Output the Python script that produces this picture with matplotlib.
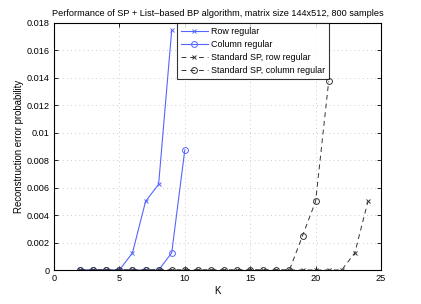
import matplotlib
matplotlib.use("Agg")
import matplotlib.pyplot as plt
import numpy as np

plt.rcParams['font.family'] = ['Liberation Sans', 'DejaVu Sans']

k_row = [2, 3, 4, 5, 6, 7, 8, 9]
p_row = [0, 0, 0, 0, 0.00125, 0.005, 0.00625, 0.0175]
k_col = [2, 3, 4, 5, 6, 7, 8, 9, 10]
p_col = [0, 0, 0, 0, 0, 0, 0, 0.00125, 0.00875]
k_sp_row = list(range(2, 25))
p_sp_row = [0]*21 + [0.00125, 0.005]
k_sp_col = list(range(2, 22))
p_sp_col = [0]*17 + [0.0025, 0.005, 0.01375]

title = "Performance of SP + List\u2013based BP algorithm, matrix size 144x512, 800 samples"
xticks = [0, 5, 10, 15, 20, 25]
yticks = [0, 0.002, 0.004, 0.006, 0.008, 0.01, 0.012, 0.014, 0.016, 0.018]
ytick_labels = ['0', '0.002', '0.004', '0.006', '0.008', '0.01', '0.012', '0.014', '0.016', '0.018']

fig = plt.figure(figsize=(4.21, 3.04), dpi=100)
ax = fig.add_axes([54/421, 1-270/304, 327/421, 247/304])

blue = '#5566ff'
ax.plot(k_row, p_row, '-x', color=blue, lw=0.8, ms=3.2, mew=0.7, label='Row regular')
ax.plot(k_col, p_col, '-o', color=blue, lw=0.8, ms=4.2, mfc='none', mew=0.7, label='Column regular')
ax.plot(k_sp_row, p_sp_row, '--x', color='#333333', lw=0.7, ms=3, mew=0.7, dashes=(5, 4), label='Standard SP, row regular')
ax.plot(k_sp_col, p_sp_col, '--o', color='#333333', lw=0.7, ms=4.2, mfc='none', mew=0.7, dashes=(5, 4), label='Standard SP, column regular')

ax.set_xlim(0, 25)
ax.set_ylim(0, 0.018)
ax.set_xticks(xticks)
ax.set_yticks(yticks)
ax.set_yticklabels(ytick_labels)
ax.tick_params(direction='in', top=True, right=True, labelsize=6.6, length=3, width=0.6, pad=3)
ax.grid(True, linestyle=(0, (1, 4)), color='#bbbbbb', lw=0.6)
for s in ax.spines.values():
    s.set_linewidth(0.8)
ax.set_xlabel('K', fontsize=7, labelpad=2)
ax.set_ylabel('Reconstruction error probability', fontsize=6.9, labelpad=2)
ax.set_title(title, fontsize=6.6, pad=5)

leg = ax.legend(loc='upper left', bbox_to_anchor=(0.376, 1.0), fontsize=6.4, frameon=True,
                fancybox=False, edgecolor='black', borderaxespad=0, handlelength=3.0,
                borderpad=0.45, labelspacing=0.45, handletextpad=0.4)
leg.get_frame().set_linewidth(0.8)

fig.savefig('out.png', dpi=100)
